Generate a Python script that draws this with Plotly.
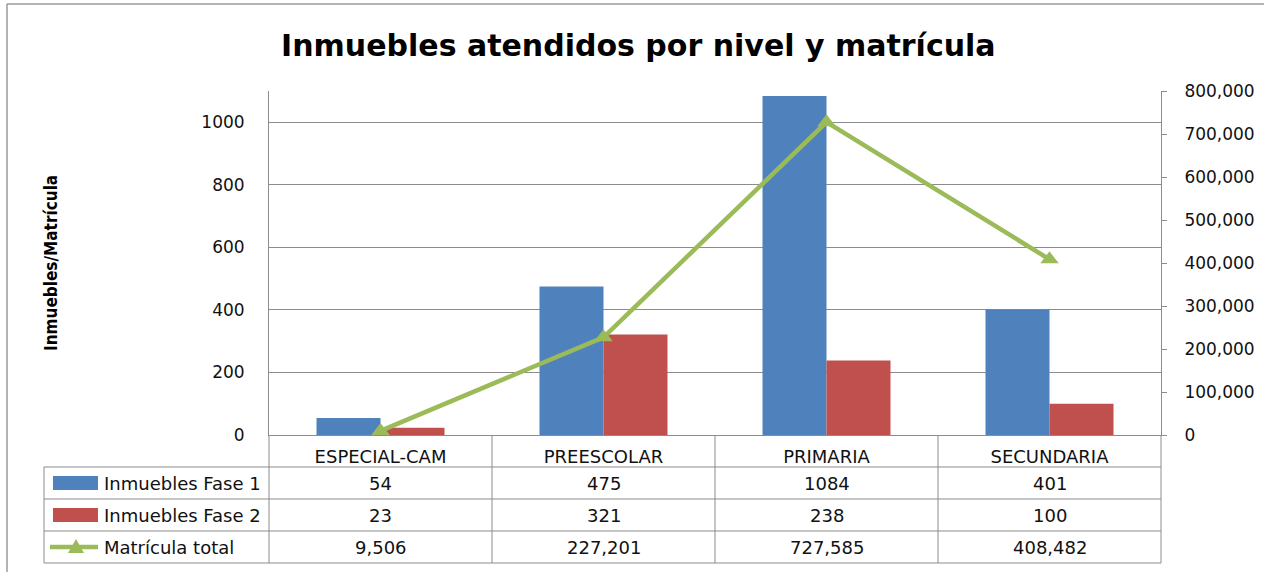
import plotly.graph_objects as go

# ---- data ----
categories = ["ESPECIAL-CAM", "PREESCOLAR", "PRIMARIA", "SECUNDARIA"]
fase1 = [54, 475, 1084, 401]
fase2 = [23, 321, 238, 100]
matricula = [9506, 227201, 727585, 408482]
series_names = ["Inmuebles Fase 1", "Inmuebles Fase 2", "Matrícula total"]
title_text = "Inmuebles atendidos por nivel y matrícula"
ytitle_text = "Inmuebles/Matrícula"

BLUE = "#4F81BD"
RED = "#C0504D"
GREEN = "#9BBB59"
GRID = "#8c8c8c"
TXT = "#111111"
FONT = "DejaVu Sans"

# ---- layout geometry (pixels) ----
FW, FH = 1264, 572
PL, PR, PT, PB = 269, 1161, 91, 435
W, H = PR - PL, PB - PT


def px(x):
    return (x - PL) / W


def py(y):
    return (PB - y) / H


fig = go.Figure()
fig.add_trace(go.Bar(x=categories, y=fase1, name=series_names[0],
                     marker=dict(color=BLUE, line=dict(width=0))))
fig.add_trace(go.Bar(x=categories, y=fase2, name=series_names[1],
                     marker=dict(color=RED, line=dict(width=0))))
fig.add_trace(go.Scatter(x=categories, y=matricula, name=series_names[2],
                         yaxis="y2", mode="lines+markers",
                         line=dict(color=GREEN, width=4.5),
                         marker=dict(symbol="triangle-up", size=16, color=GREEN)))

shapes = []
annotations = []

# outer chart border (top and left)
shapes.append(dict(type="line", xref="paper", yref="paper",
                   x0=px(7), x1=px(FW + 5), y0=py(4), y1=py(4),
                   line=dict(color="#9a9a9a", width=1.5)))
shapes.append(dict(type="line", xref="paper", yref="paper",
                   x0=px(7), x1=px(7), y0=py(4), y1=py(FH + 5),
                   line=dict(color="#9a9a9a", width=1.5)))

# data table grid
row_lines = [467, 499, 531, 563]
for yl in row_lines:
    shapes.append(dict(type="line", xref="paper", yref="paper",
                       x0=px(44), x1=1, y0=py(yl), y1=py(yl),
                       line=dict(color=GRID, width=1)))
n = len(categories)
for k in range(n + 1):
    shapes.append(dict(type="line", xref="paper", yref="paper",
                       x0=k / n, x1=k / n, y0=0, y1=py(563),
                       line=dict(color=GRID, width=1)))
shapes.append(dict(type="line", xref="paper", yref="paper",
                   x0=px(44), x1=px(44), y0=py(467), y1=py(563),
                   line=dict(color=GRID, width=1)))

# legend keys inside table
row_centers = [483, 515, 547]
shapes.append(dict(type="rect", xref="paper", yref="paper",
                   x0=px(53), x1=px(98), y0=py(row_centers[0] - 7), y1=py(row_centers[0] + 7),
                   fillcolor=BLUE, line=dict(width=0)))
shapes.append(dict(type="rect", xref="paper", yref="paper",
                   x0=px(53), x1=px(98), y0=py(row_centers[1] - 7), y1=py(row_centers[1] + 7),
                   fillcolor=RED, line=dict(width=0)))
shapes.append(dict(type="line", xref="paper", yref="paper",
                   x0=px(50), x1=px(98), y0=py(row_centers[2]), y1=py(row_centers[2]),
                   line=dict(color=GREEN, width=4.5)))
tx, ty = 76, row_centers[2]
shapes.append(dict(type="path", xref="paper", yref="paper",
                   path=f"M {px(tx-8)} {py(ty+6)} L {px(tx+8)} {py(ty+6)} L {px(tx)} {py(ty-8)} Z",
                   fillcolor=GREEN, line=dict(width=0)))

row_values = [
    [str(v) for v in fase1],
    [str(v) for v in fase2],
    [f"{v:,}" for v in matricula],
]
for r, name in enumerate(series_names):
    annotations.append(dict(text=name, xref="paper", yref="paper",
                            x=px(102), y=py(row_centers[r]), xanchor="left", yanchor="middle",
                            showarrow=False, font=dict(family=FONT, size=18, color=TXT)))
    for c, cat in enumerate(categories):
        annotations.append(dict(text=row_values[r][c], xref="x", yref="paper",
                                x=cat, y=py(row_centers[r]), xanchor="center", yanchor="middle",
                                showarrow=False, font=dict(family=FONT, size=18, color=TXT)))

# y axis title
annotations.append(dict(text=f"<b>{ytitle_text}</b>", xref="paper", yref="paper",
                        x=px(51), y=py(263), textangle=-90, showarrow=False,
                        xanchor="center", yanchor="middle",
                        font=dict(family="DejaVu Sans Condensed, Liberation Sans Narrow, DejaVu Sans",
                                  size=17, color="#000000")))

fig.update_layout(
    width=FW, height=FH,
    margin=dict(l=PL, r=FW - PR, t=PT, b=FH - PB, autoexpand=False),
    paper_bgcolor="white", plot_bgcolor="white",
    title=dict(text=f"<b>{title_text}</b>", x=0.505, xanchor="center",
               y=1 - 45 / FH, yanchor="middle",
               font=dict(family=FONT, size=30, color="#000000")),
    barmode="group", bargap=0.426, bargroupgap=0,
    showlegend=False,
    shapes=shapes, annotations=annotations,
    xaxis=dict(showline=True, linecolor=GRID, linewidth=1, ticks="",
               showgrid=False, tickfont=dict(family=FONT, size=18, color=TXT),
               ticklabelstandoff=5),
    yaxis=dict(range=[0, 1100], dtick=200, showgrid=True, gridcolor=GRID, gridwidth=1,
               showline=True, linecolor=GRID, linewidth=1, ticks="",
               zeroline=False, tickfont=dict(family=FONT, size=17, color=TXT),
               ticklabelstandoff=20),
    yaxis2=dict(range=[0, 800000], dtick=100000, tickformat=",", overlaying="y",
                side="right", showgrid=False, zeroline=False,
                showline=True, linecolor=GRID, linewidth=1,
                ticks="outside", ticklen=5, tickcolor=GRID,
                tickfont=dict(family=FONT, size=17, color=TXT),
                ticklabelstandoff=14),
)

fig.write_html("out.html", config={"displayModeBar": False},
               post_script="document.body.style.margin='0';document.body.style.overflow='hidden';")
